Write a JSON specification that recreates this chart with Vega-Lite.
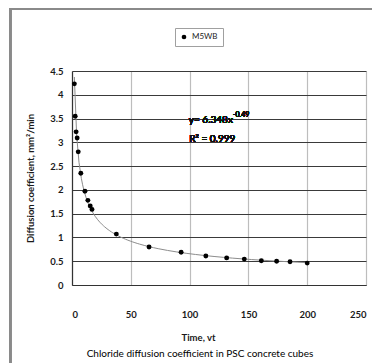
{
  "$schema": "https://vega.github.io/schema/vega-lite/v6.json",
  "autosize": "none",
  "width": 294,
  "height": 214,
  "padding": {"left": 72, "top": 71, "right": 6, "bottom": 78},
  "background": "white",
  "config": {
    "view": {"stroke": null},
    "font": "Lato",
    "axis": {"labelFont": "Lato", "titleFont": "Lato", "labelColor": "#1a1a1a", "titleColor": "#1a1a1a"}
  },
  "title": {
    "text": "Chloride diffusion coefficient in PSC concrete cubes",
    "orient": "bottom",
    "anchor": "middle",
    "baseline": "top",
    "font": "Lato",
    "fontSize": 10,
    "fontWeight": "normal",
    "color": "#000",
    "offset": -18,
    "dx": -19
  },
  "resolve": {"axis": {"x": "independent", "y": "independent"}},
  "data": {
    "values": [
      {"t": 2, "D": 4.23, "series": "M5WB"},
      {"t": 2.7, "D": 3.55, "series": "M5WB"},
      {"t": 3.5, "D": 3.22, "series": "M5WB"},
      {"t": 4.4, "D": 3.09, "series": "M5WB"},
      {"t": 5.3, "D": 2.8, "series": "M5WB"},
      {"t": 7.5, "D": 2.35, "series": "M5WB"},
      {"t": 11, "D": 1.97, "series": "M5WB"},
      {"t": 13.5, "D": 1.78, "series": "M5WB"},
      {"t": 15.5, "D": 1.66, "series": "M5WB"},
      {"t": 17, "D": 1.59, "series": "M5WB"},
      {"t": 37.7, "D": 1.07, "series": "M5WB"},
      {"t": 65.5, "D": 0.8, "series": "M5WB"},
      {"t": 92.8, "D": 0.69, "series": "M5WB"},
      {"t": 113.8, "D": 0.61, "series": "M5WB"},
      {"t": 131.5, "D": 0.57, "series": "M5WB"},
      {"t": 146.5, "D": 0.545, "series": "M5WB"},
      {"t": 161, "D": 0.51, "series": "M5WB"},
      {"t": 174, "D": 0.5, "series": "M5WB"},
      {"t": 185.4, "D": 0.49, "series": "M5WB"},
      {"t": 200, "D": 0.46, "series": "M5WB"}
    ]
  },
  "layer": [
    {
      "mark": {"type": "line", "color": "#8c8c8c", "strokeWidth": 1},
      "transform": [
        {"regression": "D", "on": "t", "method": "pow", "extent": [2, 200]}
      ],
      "encoding": {
        "x": {
          "field": "t",
          "type": "quantitative",
          "scale": {"domain": [0, 250], "nice": false, "zero": false},
          "axis": {
            "values": [0, 50, 100, 150, 200, 250],
            "title": "Time, vt",
            "titleFontSize": 9.5,
            "titleFontWeight": "bold",
            "titleX": 126,
            "titleY": 52,
            "titleBaseline": "middle",
            "labelFontSize": 9.5,
            "labelFontWeight": "bold",
            "labelPadding": 24,
            "labelOverlap": false,
            "ticks": false,
            "domainColor": "#333",
            "domainWidth": 1.2,
            "grid": true,
            "gridColor": "#bdbdbd",
            "gridWidth": 1.2
          }
        },
        "y": {
          "field": "D",
          "type": "quantitative",
          "scale": {"domain": [0, 4.5], "nice": false, "zero": false},
          "axis": {
            "values": [0, 0.5, 1, 1.5, 2, 2.5, 3, 3.5, 4, 4.5],
            "format": "~g",
            "title": "Diffusion coefficient, mm²/min",
            "titleFontSize": 9.5,
            "titleFontWeight": "bold",
            "titlePadding": 14,
            "labelFontSize": 9.5,
            "labelFontWeight": "bold",
            "labelPadding": 9,
            "labelOverlap": false,
            "labelFlush": false,
            "ticks": false,
            "domainColor": "#333",
            "domainWidth": 1.2,
            "grid": true,
            "gridColor": "#3a3a3a",
            "gridWidth": 1.2
          }
        }
      }
    },
    {
      "mark": {"type": "point", "filled": true, "size": 24, "opacity": 1},
      "encoding": {
        "x": {"field": "t", "type": "quantitative", "axis": null},
        "y": {"field": "D", "type": "quantitative", "axis": null},
        "color": {
          "field": "series",
          "type": "nominal",
          "scale": {"range": ["#000000"]},
          "legend": {
            "title": null,
            "orient": "none",
            "legendX": 103,
            "legendY": -43,
            "fillColor": "white",
            "strokeColor": "#a0a0a0",
            "padding": 5,
            "labelFontSize": 8,
            "labelFont": "Lato",
            "labelColor": "#222",
            "symbolSize": 22,
            "symbolType": "circle"
          }
        }
      }
    },
    {
      "mark": {"type": "text", "align": "right", "baseline": "middle", "fontSize": 10, "font": "Lato", "color": "#111"},
      "encoding": {
        "x": {"datum": 136.8, "type": "quantitative", "axis": null},
        "y": {"datum": 3.46, "type": "quantitative", "axis": null},
        "text": {"value": "y= 6.348x"}
      }
    },
    {
      "mark": {"type": "text", "align": "left", "baseline": "middle", "fontSize": 7, "font": "Lato", "color": "#111"},
      "encoding": {
        "x": {"datum": 136.8, "type": "quantitative", "axis": null},
        "y": {"datum": 3.57, "type": "quantitative", "axis": null},
        "text": {"value": "-0.49"}
      }
    },
    {
      "mark": {"type": "text", "align": "center", "baseline": "middle", "fontSize": 10, "font": "Lato", "color": "#111"},
      "encoding": {
        "x": {"datum": 119.3, "type": "quantitative", "axis": null},
        "y": {"datum": 3.06, "type": "quantitative", "axis": null},
        "text": {"value": "R² = 0.999"}
      }
    },
    {
      "mark": {"type": "rect", "fill": null, "stroke": "#8a8a8a", "strokeWidth": 1.5, "clip": false},
      "encoding": {
        "x": {"datum": -52.4, "type": "quantitative", "axis": null},
        "x2": {"datum": 330},
        "y": {"datum": 5.81, "type": "quantitative", "axis": null},
        "y2": {"datum": -1.7}
      }
    }
  ]
}
